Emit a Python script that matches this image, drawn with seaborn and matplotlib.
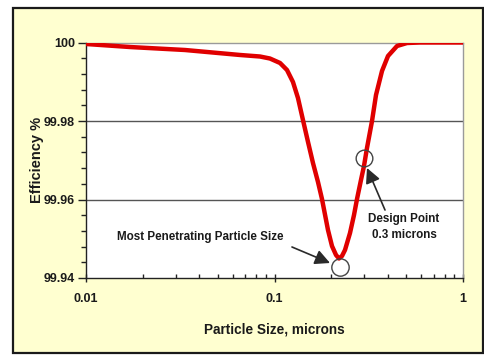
import matplotlib
matplotlib.use("Agg")
import matplotlib.pyplot as plt
import matplotlib.ticker as mticker
from matplotlib.patches import Rectangle
import seaborn as sns
import pandas as pd

# ---- data ----
particle_size = [0.01, 0.0171, 0.0335, 0.0656, 0.0838, 0.0946, 0.1070, 0.1165, 0.1253,
                 0.1332, 0.1416, 0.1506, 0.1600, 0.1701, 0.1786, 0.1922, 0.2018,
                 0.2120, 0.2199, 0.2281, 0.2366, 0.2515, 0.2641, 0.2740, 0.2876,
                 0.2984, 0.3095, 0.3291, 0.3455, 0.3718, 0.4001, 0.4467, 0.5045,
                 0.5912, 1.0]
efficiency = [99.99962, 99.99885, 99.99809, 99.99682, 99.99643, 99.99592, 99.99478,
              99.99299, 99.98994, 99.98586, 99.98025, 99.97465, 99.96930, 99.96446,
              99.96013, 99.95223, 99.94815, 99.94586, 99.94497, 99.94561, 99.94713,
              99.95146, 99.95605, 99.96013, 99.96497, 99.96854, 99.97312, 99.98000,
              99.98662, 99.99274, 99.99656, 99.99911, 99.99987, 100.0, 100.0]

x_ticks = [0.01, 0.1, 1]
x_tick_labels = ["0.01", "0.1", "1"]
y_ticks = [99.94, 99.96, 99.98, 100.0]
y_tick_labels = ["99.94", "99.96", "99.98", "100"]

mpps_point = (0.2226, 99.9428)
design_point = (0.3, 99.9706)

mpps_text = "Most Penetrating Particle Size"
design_text = "Design Point\n0.3 microns"
x_label = "Particle Size, microns"
y_label = "Efficiency %"

df = pd.DataFrame({"size": particle_size, "eff": efficiency})

sns.set_style("white")
FONT = ["Liberation Sans", "DejaVu Sans"]
plt.rcParams["font.family"] = FONT

fig = plt.figure(figsize=(4.85, 3.6), dpi=100)
fig.patch.set_facecolor("white")
# outer yellow frame
frame = Rectangle((13 / 485, 1 - 353 / 360), 470 / 485, 345 / 360,
                  transform=fig.transFigure, facecolor="#FFFFD0",
                  edgecolor="#1a1a1a", linewidth=1.6, zorder=-10)
fig.patches.append(frame)

ax = fig.add_axes([86 / 485, 1 - 278 / 360, 377 / 485, 235.5 / 360])
ax.set_zorder(1)
ax.set_facecolor("white")
ax.set_xscale("log")

sns.lineplot(data=df, x="size", y="eff", ax=ax, color="#E00000", linewidth=3.2,
             zorder=3, legend=False)
for ln in ax.get_lines():
    ln.set_solid_joinstyle("round")
    ln.set_solid_capstyle("round")

ax.set_xlim(0.01, 1)
ax.set_ylim(99.94, 100.0)

# gridlines
for yv in [99.96, 99.98]:
    ax.axhline(yv, color="#555555", lw=1.0, zorder=1)

for side in ["top", "right"]:
    ax.spines[side].set_color("#9a9a9a")
    ax.spines[side].set_linewidth(1.0)
for side in ["left", "bottom"]:
    ax.spines[side].set_color("#222222")
    ax.spines[side].set_linewidth(1.0)

ax.set_yticks(y_ticks)
ax.set_yticklabels(y_tick_labels)
ax.yaxis.set_minor_locator(mticker.MultipleLocator(0.004))
ax.set_xticks(x_ticks)
ax.set_xticklabels(x_tick_labels)
ax.xaxis.set_minor_locator(mticker.LogLocator(base=10, subs=range(2, 10)))
ax.xaxis.set_minor_formatter(mticker.NullFormatter())

ax.tick_params(which="both", bottom=True, left=True, top=False, right=False)
ax.tick_params(axis="y", which="major", direction="out", length=6, width=1,
               color="#222222", pad=2, labelsize=9)
ax.tick_params(axis="y", which="minor", direction="out", length=3.5, width=1,
               color="#222222")
ax.tick_params(axis="x", which="major", direction="inout", length=6, width=1,
               color="#222222", pad=8, labelsize=9)
ax.tick_params(axis="x", which="minor", direction="in", length=3, width=1,
               color="#222222")
for lab in ax.get_xticklabels() + ax.get_yticklabels():
    lab.set_fontweight("bold")
    lab.set_color("#1a1a1a")

ax.set_xlabel(x_label, fontsize=9.8, fontweight="bold", color="#1a1a1a", va="center")
ax.set_ylabel(y_label, fontsize=10.5, fontweight="bold", color="#1a1a1a", va="center")
ax.xaxis.set_label_coords(0.5, -(330 - 278) / 235.5)
ax.yaxis.set_label_coords(-(86 - 37) / 377, 0.5)

# circles
ax.plot([mpps_point[0]], [mpps_point[1]], marker="o", ms=12.5, mfc="none",
        mec="#444444", mew=1.0, zorder=4, clip_on=False)
ax.plot([design_point[0]], [design_point[1]], marker="o", ms=12, mfc="none",
        mec="#444444", mew=1.0, zorder=4, clip_on=False)

# annotations
arrow = dict(arrowstyle="-|>,head_length=0.9,head_width=0.45", color="#2a2a2a",
             lw=1.2, shrinkA=0, shrinkB=0)
ax.annotate("", xy=(0.197, 99.94382), xytext=(0.1238, 99.9479), arrowprops=arrow,
            zorder=5)
ax.annotate("", xy=(0.3095, 99.96803), xytext=(0.3857, 99.95732), arrowprops=arrow,
            zorder=5)

ax.text(0.0403, 99.95045, mpps_text, ha="center", va="center", fontsize=8.4,
        fontweight="bold", color="#1a1a1a")
ax.text(0.4864, 99.9530, design_text, ha="center", va="center", fontsize=8.4,
        fontweight="bold", color="#1a1a1a", linespacing=1.5)

fig.savefig("out.png", dpi=100)
